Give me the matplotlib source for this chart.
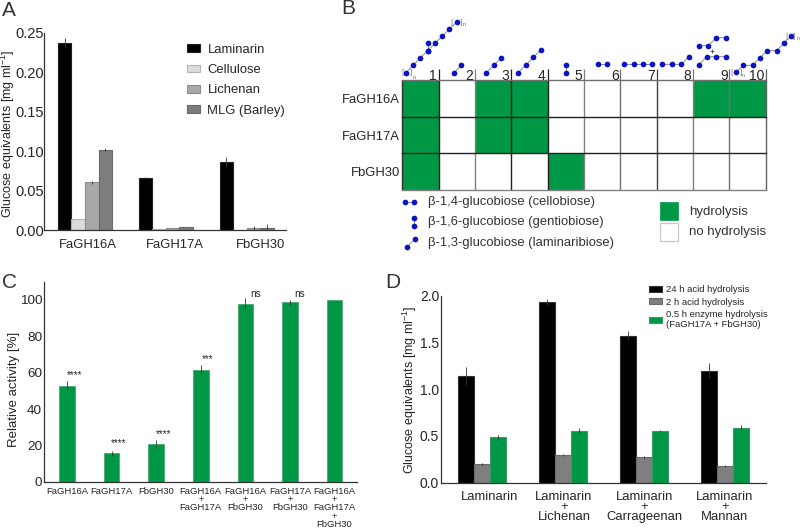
import matplotlib
matplotlib.use("Agg")
import matplotlib.pyplot as plt
import numpy as np
from matplotlib.patches import Rectangle
from matplotlib.colors import ListedColormap

plt.rcParams['font.family'] = ['Liberation Sans', 'DejaVu Sans']
plt.rcParams['mathtext.default'] = 'regular'
plt.rcParams['text.color'] = '#262626'
plt.rcParams['axes.labelcolor'] = '#262626'
plt.rcParams['xtick.color'] = '#262626'
plt.rcParams['ytick.color'] = '#262626'

# ---------- data ----------
a_groups = ['FaGH16A', 'FaGH17A', 'FbGH30']
a_laminarin = [0.237, 0.0665, 0.0863]
a_cellulose = [0.0139, 0.0013, 0.0005]
a_lichenan = [0.0606, 0.0025, 0.0027]
a_mlg = [0.102, 0.0038, 0.0027]
a_laminarin_err = [0.006, 0.001, 0.006]
a_cellulose_err = [0.0, 0.0, 0.0]
a_lichenan_err = [0.002, 0.0, 0.003]
a_mlg_err = [0.002, 0.0, 0.005]
a_names = ['Laminarin', 'Cellulose', 'Lichenan', 'MLG (Barley)']

b_rows = ['FaGH16A', 'FaGH17A', 'FbGH30']
b_cols = ['1', '2', '3', '4', '5', '6', '7', '8', '9', '10']
b_hydrolysis = [[1, 0, 1, 1, 0, 0, 0, 0, 1, 1],
                [1, 0, 1, 1, 0, 0, 0, 0, 0, 0],
                [1, 0, 0, 0, 1, 0, 0, 0, 0, 0]]

c_labels = ['FaGH16A', 'FaGH17A', 'FbGH30', 'FaGH16A\n+\nFaGH17A', 'FaGH16A\n+\nFbGH30',
            'FaGH17A\n+\nFbGH30', 'FaGH16A\n+\nFaGH17A\n+\nFbGH30']
c_values = [52.6, 15.7, 21.0, 61.4, 97.8, 98.5, 100.0]
c_err = [2.8, 1.2, 2.2, 2.8, 3.3, 1.2, 0.0]
c_sig = ['****', '****', '****', '***', 'ns', 'ns', '']
c_sig_y = [58.4, 21.2, 26.3, 67.2, 103, 103, 0]

d_labels = ['Laminarin', 'Laminarin\n+\nLichenan', 'Laminarin\n+\nCarrageenan', 'Laminarin\n+\nMannan']
d_24h = [1.14, 1.93, 1.572, 1.20]
d_2h = [0.195, 0.30, 0.27, 0.175]
d_enzyme = [0.485, 0.555, 0.55, 0.585]
d_24h_err = [0.10, 0.03, 0.046, 0.085]
d_2h_err = [0.012, 0.01, 0.012, 0.012]
d_enzyme_err = [0.025, 0.026, 0.013, 0.03]
d_names = ['24 h acid hydrolysis', '2 h acid hydrolysis',
           '0.5 h enzyme hydrolysis\n(FaGH17A + FbGH30)']

# glycan schematics: chains of residues above the matrix
glycan_chains = [
    [(228, 218), (249, 196), (271, 174), (293, 152), (315, 130), (336, 109), (358, 88), (380, 66)],
    [(293, 152), (293, 130)],
    [(372, 218), (394, 196)],
    [(469, 218), (491, 196), (513, 174)],
    [(564, 218), (587, 196), (610, 172), (632, 150)],
    [(708, 218), (708, 194)],
    [(803, 193), (831, 193)],
    [(882, 193), (911, 193), (939, 193), (967, 193)],
    [(997, 193), (1026, 193), (1054, 193), (1076, 170)],
    [(1107, 194), (1130, 170), (1159, 170), (1187, 170)],
    [(1107, 137), (1135, 137), (1159, 113), (1187, 113)],
    [(1218, 216), (1240, 196), (1268, 196), (1290, 173), (1312, 152), (1340, 152), (1361, 130), (1383, 108)],
    [(225, 606), (253, 606)],
    [(253, 653), (253, 677)],
    [(231, 741), (254, 718)],
]

GREEN = '#009846'
BLUE = '#0a14c4'
W, H = 800, 529


def axes_px(l, t, r, b):
    return fig.add_axes([l / W, 1 - b / H, (r - l) / W, (b - t) / H])


def style(ax, labelsize):
    ax.spines[['top', 'right']].set_visible(False)
    ax.spines[['left', 'bottom']].set_linewidth(0.9)
    ax.spines[['left', 'bottom']].set_color('#333333')
    ax.tick_params(axis='both', length=0, labelsize=labelsize)
    ax.patch.set_alpha(0)


def grouped(ax, x, series, errs, colors, edges, width):
    conts = []
    n = len(series)
    for i, (vals, err, c, e) in enumerate(zip(series, errs, colors, edges)):
        conts.append(ax.bar(x + (i - (n - 1) / 2) * width, vals, width, color=c, edgecolor=e, linewidth=0.8,
                            yerr=err, error_kw=dict(ecolor='#333333', elinewidth=0.6, capsize=0)))
    return conts


fig = plt.figure(figsize=(8, 5.29), dpi=100)
fig.patch.set_facecolor('white')

# ---------- panel A ----------
axA = axes_px(44.3, 32.5, 286, 230.3)
xa = np.arange(3)
ca = grouped(axA, xa, [a_laminarin, a_cellulose, a_lichenan, a_mlg],
             [a_laminarin_err, a_cellulose_err, a_lichenan_err, a_mlg_err],
             ['black', '#dcdcdc', '#a8a8a8', '#7d7d7d'], ['#222222', '#b4b4b4', '#8c8c8c', '#6a6a6a'], 0.168)
axA.set_xlim(-0.502, 2.485)
axA.set_ylim(0, 0.25)
axA.set_yticks([0, 0.05, 0.10, 0.15, 0.20, 0.25], ['0.00', '0.05', '0.10', '0.15', '0.20', '0.25'])
axA.set_xticks([0.03, 1.115, 2.164], a_groups)
style(axA, 10.5)
axA.tick_params(axis='x', labelsize=9.4, pad=6)
axA.tick_params(axis='y', pad=0)
axA.set_ylabel('Glucose equivalents [mg ml$^{-1}$]', fontsize=9.0)
axA.yaxis.set_label_coords(-0.112, 0.49)
axA.legend(ca, a_names, loc='upper left', bbox_to_anchor=(182 / W, 1 - 38.5 / H),
           bbox_transform=fig.transFigure, frameon=False, fontsize=9.4, handlelength=0.95, handleheight=0.5,
           labelspacing=0.64, handletextpad=0.6, borderpad=0, borderaxespad=0.4)

# ---------- panel B ----------
axB = axes_px(402.3, 80.3, 765.7, 190)
axB.pcolormesh(np.arange(11), np.arange(4), np.array(b_hydrolysis),
               cmap=ListedColormap(['white', GREEN]), vmin=0, vmax=1)
axB.set_xlim(0, 10)
axB.set_ylim(3, 0)
for s in axB.spines.values():
    s.set_visible(False)
col_line = ['#303030', '#202020', '#808080', '#202020', '#202020', '#808080', '#707070', '#404040', '#808080', '#707070', '#606060']
for i, c in enumerate(col_line):
    axB.plot([i, i], [0, 3], color=c, lw=1.0, clip_on=False, solid_capstyle='butt', zorder=3)
    if i > 0:
        axB.plot([i, i], [-0.3, 0], color=c, lw=0.9, clip_on=False, solid_capstyle='butt', zorder=3)
for j, c in enumerate(['#707070', '#202020', '#202020', '#808080']):
    axB.plot([0, 10], [j, j], color=c, lw=1.0, clip_on=False, zorder=3)
axB.set_yticks(np.arange(3) + 0.5, b_rows)
axB.tick_params(axis='y', length=0, labelsize=9.4, pad=1.5)
axB.set_xticks([])
for i, lab in enumerate(b_cols):
    axB.text(i + 0.95, -0.02, lab, ha='right', va='baseline', fontsize=10)

# overlay for schematic artwork; units are 1/3 px
ov = fig.add_axes([0, 0, 1, 1], zorder=5)
ov.set_xlim(-990, 1410)
ov.set_ylim(1587, 0)
ov.axis('off')
for chain in glycan_chains:
    xs, ys = zip(*chain)
    ov.plot(xs, ys, '-', color='#7a7a9a', lw=0.6, zorder=1)
    ov.plot(xs, ys, 'o', color=BLUE, ms=4.1, mew=0, zorder=2)
ov.plot([1146], [153], marker='+', color='#444444', ms=3, mew=0.6)
for x, y, s in [(217, 218, '['), (244, 218, ']'), (364, 66, '['), (394, 66, ']'),
                (1205, 216, '['), (1232, 216, ']'), (1370, 108, '['), (1392, 108, ']')]:
    ov.text(x, y, s, fontsize=6, color='#888888', ha='center', va='center')
for x, y in [(252, 232), (403, 75), (1240, 226), (1404, 116)]:
    ov.text(x, y, 'n', fontsize=4, color='#666666', ha='center', va='center', clip_on=False)
for y, s in [(606, 'β-1,4-glucobiose (cellobiose)'), (665, 'β-1,6-glucobiose (gentiobiose)'),
             (730, 'β-1,3-glucobiose (laminaribiose)')]:
    ov.text(295, y, s, fontsize=9.4, va='center', ha='left', color='#333333')
ov.add_patch(Rectangle((989, 607), 54, 54, fc=GREEN, ec='#009846', lw=0.5))
ov.add_patch(Rectangle((989, 670), 54, 54, fc='white', ec='#c8c8c8', lw=0.9))
ov.text(1078, 637, 'hydrolysis', fontsize=9.5, va='center', color='#333333')
ov.text(1078, 696, 'no hydrolysis', fontsize=9.5, va='center', color='#333333')

# ---------- panel C ----------
axC = axes_px(44.3, 281.7, 356.7, 482)
xc = np.arange(7)
axC.bar(xc, c_values, 0.352, color=GREEN, edgecolor='#4aa873', linewidth=0.6, yerr=c_err,
        error_kw=dict(ecolor='#333333', elinewidth=0.6, capsize=0))
axC.set_xlim(-0.509, 6.495)
axC.set_ylim(0, 109.9)
axC.set_yticks([0, 20, 40, 60, 80, 100])
axC.set_xticks(xc, c_labels, linespacing=0.88)
style(axC, 9.7)
axC.tick_params(axis='x', labelsize=6.8, pad=3.7)
axC.tick_params(axis='y', pad=1.5)
axC.set_ylabel('Relative activity [%]', fontsize=9.5)
axC.yaxis.set_label_coords(-0.079, 0.464)
for x, y, s in zip(xc, c_sig_y, c_sig):
    if s:
        star = '*' in s
        axC.text(x + (0.16 if star else 0.22), y, s, ha='center', va='center', fontsize=7.0 if star else 7.2)

# ---------- panel D ----------
axD = axes_px(441.3, 295.7, 765.7, 482.7)
xd = np.arange(4)
cd = grouped(axD, xd, [d_24h, d_2h, d_enzyme], [d_24h_err, d_2h_err, d_enzyme_err],
             ['black', '#7f7f7f', GREEN], ['#333333', '#6a6a6a', '#3a9a64'], 0.198)
axD.set_xlim((441.3 - 482.3) / 80.9, (765.7 - 482.3) / 80.9)
axD.set_ylim(0, 2.0)
axD.set_yticks([0, 0.5, 1.0, 1.5, 2.0], ['0.0', '0.5', '1.0', '1.5', '2.0'])
axD.set_xticks([0.09, 1.01, 2, 3], d_labels, linespacing=0.8)
style(axD, 10)
axD.tick_params(axis='x', labelsize=9.4, pad=6)
axD.tick_params(axis='y', pad=1.5)
axD.set_ylabel('Glucose equivalents [mg ml$^{-1}$]', fontsize=9.0)
axD.yaxis.set_label_coords(-0.069, 0.496)
axD.legend(cd, d_names, loc='upper left', bbox_to_anchor=(649.3 / W, 1 - 285.5 / H),
           bbox_transform=fig.transFigure, frameon=False, fontsize=6.8, handlelength=1.32, handleheight=0.6,
           labelspacing=0.34, handletextpad=0.45, borderpad=0, borderaxespad=0)

# ---------- panel letters ----------
for x, y, s in [(2, 10, 'A'), (341, 9, 'B'), (2, 282, 'C'), (385, 282, 'D')]:
    fig.text(x / W, 1 - y / H, s, fontsize=15, va='center', ha='left', color='#333333')

fig.savefig('out.png', dpi=100)
